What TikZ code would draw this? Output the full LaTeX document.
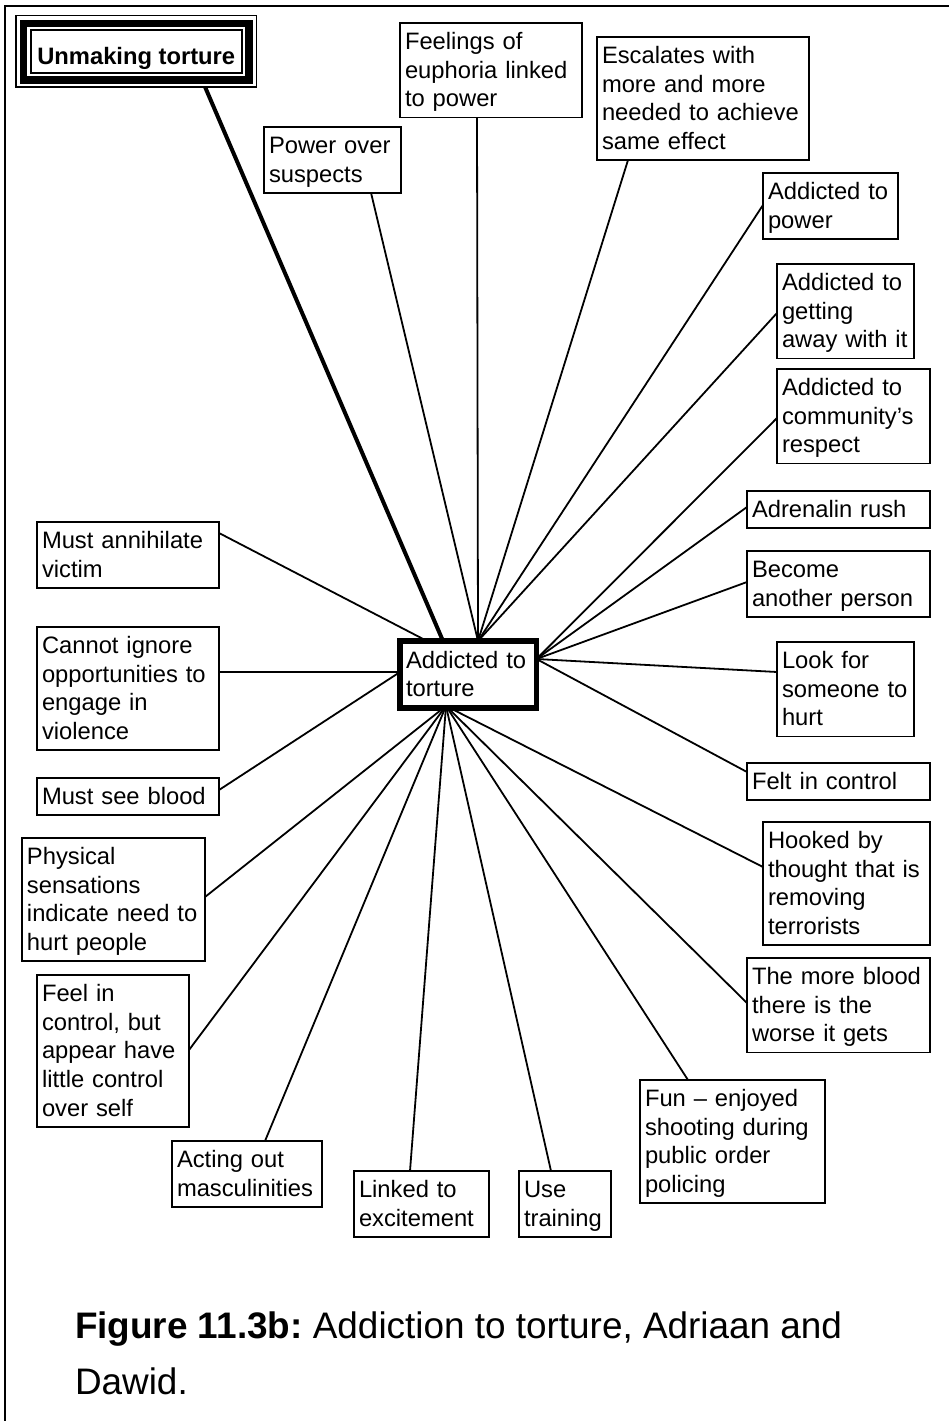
\documentclass[tikz,border=0pt]{standalone}
\usepackage{fontspec}
\setmainfont{Liberation Sans}
\usetikzlibrary{calc}
\frenchspacing
\newcommand\fsz{\fontsize{23.75pt}{28.7pt}\selectfont}
\newcommand\boxstrut{\rule[-5.5pt]{0pt}{27pt}}
\tikzset{
  box/.style={draw, line width=1.8pt, anchor=north west, align=left, outer sep=0pt,
    inner xsep=5pt, inner ysep=5pt, font=\fsz,
    execute at begin node=\boxstrut, execute at end node=\boxstrut},
  hubbox/.style={box, line width=5.5pt, inner xsep=6pt, inner ysep=5.65pt},
  link/.style={line width=1.8pt},
  mainlink/.style={line width=4pt},
}
\begin{document}
\begin{tikzpicture}[x=1pt,y=-1pt]
\useasboundingbox (0,0) rectangle (949,1421);
\draw[line width=2pt] (5,1421) -- (5,6) -- (949,6);

% title box
\node[draw, line width=2pt, outer sep=0pt, minimum width=211.5pt, minimum height=42.3pt,
  inner sep=0pt, text height=26pt, text depth=0pt, font=\fsz\bfseries] (unm) at (136.25,51.65) {Unmaking torture};
\draw[line width=7.5pt] ($(unm.south west)+(-7,7)$) rectangle ($(unm.north east)+(7,-7)$);
\draw[line width=1.5pt] ($(unm.south west)+(-14.5,14)$) rectangle ($(unm.north east)+(14.5,-15)$);

% central node
\node[hubbox, text width=124.5pt] (ctr) at (400,641) {Addicted to\\torture};
\coordinate (hT) at ($(ctr.north west)+(78,0)$);
\coordinate (hTL) at ($(ctr.north west)+(27,0)$);
\coordinate (hU) at ($(ctr.north west)+(43,0)$);
\coordinate (hR) at ($(ctr.north east)+(0,18)$);
\coordinate (hL) at ($(ctr.north west)+(0,31)$);
\coordinate (hB) at ($(ctr.south west)+(46,-2)$);

% surrounding boxes
\node[box, text width=127pt] (pwr) at (264,127) {Power over\\suspects};
\node[box, text width=172pt] (eup) at (400,23) {Feelings of\\euphoria linked\\to power};
\node[box, text width=202pt] (esc) at (597,37) {Escalates with\\more and more\\needed to achieve\\same effect};
\node[box, text width=125pt] (apw) at (763,173) {Addicted to\\power};
\node[box, text width=127pt] (get) at (777,264) {Addicted to\\getting\\away with it};
\node[box, text width=143pt] (com) at (777,369) {Addicted to\\community’s\\respect};
\node[box, text width=173pt] (adr) at (747,491) {Adrenalin rush};
\node[box, text width=173pt] (bec) at (747,551) {Become\\another person};
\node[box, text width=127pt] (lfs) at (777,642) {Look for\\someone to\\hurt};
\node[box, text width=173pt] (fic) at (747,763) {Felt in control};
\node[box, text width=157pt] (hoo) at (763,822) {Hooked by\\thought that is\\removing\\terrorists};
\node[box, text width=173pt] (mbl) at (747,958) {The more blood\\there is the\\worse it gets};
\node[box, text width=175pt] (fun) at (640,1080) {Fun – enjoyed\\shooting during\\public order\\policing};
\node[box, text width=82pt] (use) at (519,1171) {Use\\training};
\node[box, text width=125pt] (lnk) at (354,1171) {Linked to\\excitement};
\node[box, text width=140pt] (act) at (172,1141) {Acting out\\masculinities};
\node[box, text width=142pt] (fel) at (37,975) {Feel in\\control, but\\appear have\\little control\\over self};
\node[box, text width=173pt] (phy) at (22,838) {Physical\\sensations\\indicate need to\\hurt people};
\node[box, text width=172pt] (msb) at (37,778) {Must see blood};
\node[box, text width=172pt] (cig) at (37,627) {Cannot ignore\\opportunities to\\engage in\\violence};
\node[box, text width=172pt] (mav) at (37,522) {Must annihilate\\victim};

% connectors
\draw[mainlink] ($(unm.south west)+(174.5,14)$) -- (hU);
\draw[link] ($(pwr.south west)+(107,0)$) -- (hT);
\draw[link] ($(eup.south west)+(77,0)$) -- (hT);
\draw[link] ($(esc.south west)+(31,0)$) -- (hT);
\draw[link] ($(apw.north west)+(0,32)$) -- (hT);
\draw[link] ($(get.north west)+(0,49)$) -- (hT);
\draw[link] ($(com.north west)+(0,49)$) -- (hR);
\draw[link] ($(adr.north west)+(0,16)$) -- (hR);
\draw[link] ($(bec.north west)+(0,31)$) -- (hR);
\draw[link] ($(lfs.north west)+(0,30)$) -- (hR);
\draw[link] ($(fic.north west)+(0,9)$) -- (hR);
\draw[link] ($(hoo.north west)+(0,45)$) -- (hB);
\draw[link] ($(mbl.north west)+(0,45)$) -- (hB);
\draw[link] ($(fun.north west)+(48,0)$) -- (hB);
\draw[link] ($(use.north west)+(32,0)$) -- (hB);
\draw[link] ($(lnk.north west)+(56,0)$) -- (hB);
\draw[link] ($(act.north west)+(93,0)$) -- (hB);
\draw[link] ($(fel.north east)+(0,75)$) -- (hB);
\draw[link] ($(phy.north east)+(0,59)$) -- (hB);
\draw[link] ($(msb.north east)+(0,12)$) -- (hL);
\draw[link] ($(cig.north east)+(0,45)$) -- (hL);
\draw[link] ($(mav.north east)+(0,11)$) -- (hTL);

% caption
\node[anchor=north west, inner sep=0pt, outer sep=0pt, align=left,
  font=\fontsize{36.9pt}{56pt}\selectfont] (cap) at (75,1312)
  {\textbf{Figure 11.3b:} Addiction to torture, Adriaan and\\Dawid.};
\end{tikzpicture}
\end{document}
